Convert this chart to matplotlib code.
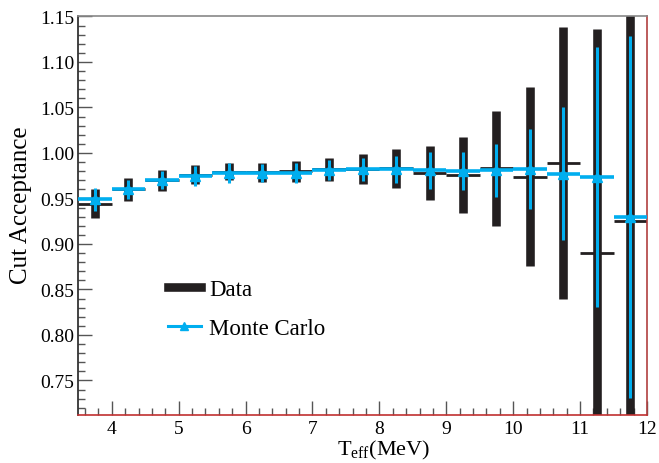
import numpy as np
import matplotlib
matplotlib.use("Agg")
import matplotlib.pyplot as plt
from matplotlib.ticker import MultipleLocator, FormatStrFormatter
from matplotlib.lines import Line2D

plt.rcParams['font.family'] = ['Liberation Serif', 'DejaVu Serif']
plt.rcParams['mathtext.fontset'] = 'custom'
plt.rcParams['mathtext.rm'] = 'Liberation Serif'

# bin centres (MeV), each bin 0.5 MeV wide
t_eff = [3.75, 4.25, 4.75, 5.25, 5.75, 6.25, 6.75, 7.25, 7.75, 8.25,
         8.75, 9.25, 9.75, 10.25, 10.75, 11.25, 11.75]
half_width = 0.25

data_acc = [0.944, 0.960, 0.970, 0.976, 0.9795, 0.979, 0.980, 0.982, 0.982, 0.983,
            0.978, 0.976, 0.983, 0.974, 0.989, 0.890, 0.925]
data_err = [0.016, 0.0125, 0.0115, 0.0105, 0.0095, 0.0105, 0.0115, 0.0125, 0.0165, 0.0215,
            0.0295, 0.042, 0.063, 0.098, 0.150, 0.246, 0.300]

mc_acc = [0.949, 0.960, 0.970, 0.975, 0.978, 0.978, 0.978, 0.981, 0.982, 0.982,
          0.981, 0.980, 0.981, 0.982, 0.977, 0.974, 0.930]
mc_err = [0.0125, 0.0105, 0.010, 0.011, 0.011, 0.010, 0.011, 0.011, 0.0125, 0.0145,
          0.0205, 0.021, 0.029, 0.044, 0.073, 0.143, 0.199]

BLACK = '#231f20'
CYAN = '#00aeef'

t = np.array(t_eff)
d = np.array(data_acc)
de = np.array(data_err)
m = np.array(mc_acc)
me = np.array(mc_err)

fig = plt.figure(figsize=(6.59, 4.64), dpi=100)
ax = fig.add_axes([0.1188, 0.1024, 0.8630, 0.8599])

# data: thick black error bars + horizontal bin lines
ax.vlines(t, d - de, d + de, color=BLACK, lw=6.2, zorder=2)
ax.hlines(d, t - half_width, t + half_width, color=BLACK, lw=2.0, zorder=2)

# monte carlo: thin cyan error bars, bin lines, triangles
ax.vlines(t, m - me, m + me, color=CYAN, lw=2.2, zorder=3)
ax.hlines(m, t - half_width, t + half_width, color=CYAN, lw=2.6, zorder=3)
ax.plot(t, m, ls='none', marker='^', color=CYAN, ms=7.5, zorder=4)

ax.set_xlim(3.5, 12)
ax.set_ylim(0.7115, 1.15)

ax.xaxis.set_major_locator(MultipleLocator(1))
ax.xaxis.set_minor_locator(MultipleLocator(0.2))
ax.yaxis.set_major_locator(MultipleLocator(0.05))
ax.yaxis.set_minor_locator(MultipleLocator(0.01))
ax.yaxis.set_major_formatter(FormatStrFormatter('%.2f'))

ax.tick_params(which='both', direction='in', top=False, right=False,
               labelsize=14, color='#555555')
ax.tick_params(which='major', length=10, width=1.0)
ax.tick_params(which='minor', length=5, width=1.0)
ax.tick_params(axis='x', which='major', pad=3)
ax.tick_params(axis='y', which='major', pad=3)

ax.spines['left'].set_color('#222222')
ax.spines['top'].set_color('#888888')
ax.spines['right'].set_color('#b04040')
ax.spines['bottom'].set_color('#c03030')
for s in ax.spines.values():
    s.set_linewidth(1.2)

ax.set_xlabel(r'T$_{\rm eff}$(MeV)', fontsize=16)
ax.xaxis.set_label_coords(0.537, -0.056)
ax.set_ylabel('Cut Acceptance', fontsize=18)
ax.yaxis.set_label_coords(-0.082, 0.53)

handles = [Line2D([], [], color=BLACK, lw=6.2),
           Line2D([], [], color=CYAN, lw=2.2, marker='^', ms=6)]
ax.legend(handles, ['Data', 'Monte Carlo'], loc='upper left',
          bbox_to_anchor=(0.121, 0.393), frameon=False, fontsize=16.5,
          handlelength=1.45, handletextpad=0.35, labelspacing=0.75)

fig.savefig('out.png', dpi=100)
